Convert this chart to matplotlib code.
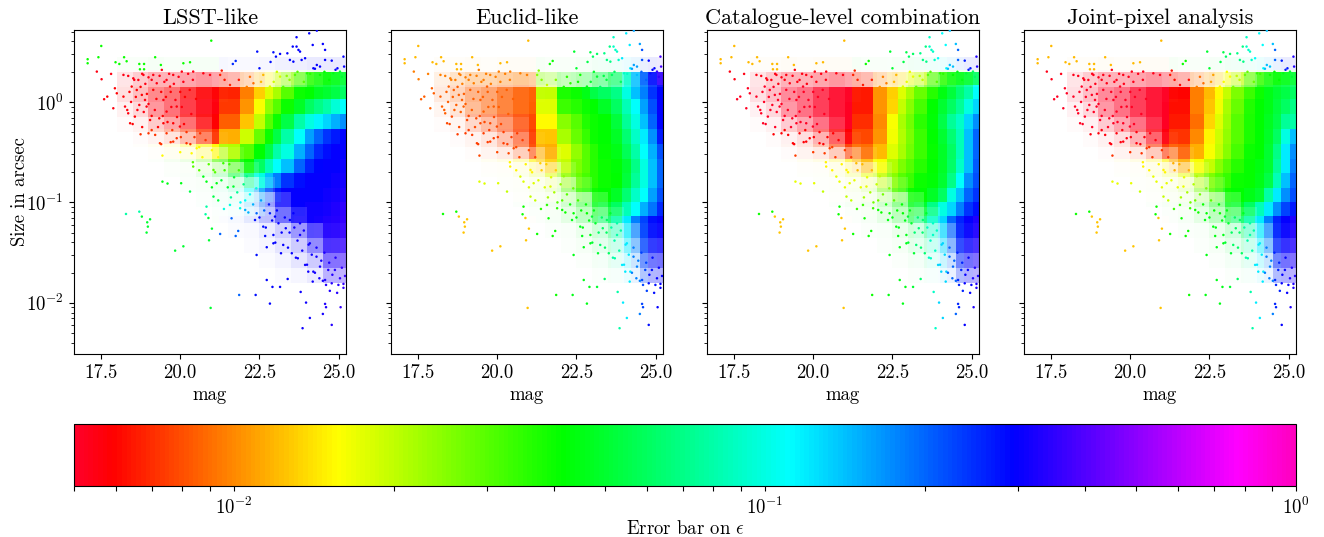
import matplotlib
matplotlib.use('Agg')
import matplotlib.pyplot as plt
from matplotlib.colors import ListedColormap, LogNorm
from matplotlib.cm import ScalarMappable
from matplotlib.ticker import LogLocator, NullFormatter
import numpy as np

plt.rcParams['font.family'] = ['cmr10', 'DejaVu Serif']
plt.rcParams['mathtext.fontset'] = 'cm'
plt.rcParams['axes.formatter.use_mathtext'] = True
plt.rcParams['axes.unicode_minus'] = False

titles = ['LSST-like', 'Euclid-like', 'Catalogue-level combination', 'Joint-pixel analysis']

# tile edges of the error map
mag_edges = [16.65, 21.22, 21.89, 22.33, 22.68, 22.94, 23.19, 23.58, 23.93, 24.22, 24.51, 24.77, 25.03, 25.25]
log_size_edges = [0.72, 0.32, 0.17, 0.03, -0.12, -0.27, -0.42, -0.57, -0.71, -0.86, -1.0, -1.14, -2.51]

err_lsst = [
    [.04, .25, .27, .28, .28, .29, .29, .3, .3, .3, .3, .3, .3],
    [.0055, .0065, .009, .012, .015, .019, .024, .03, .036, .04, .042, .045, .05],
    [.0058, .0068, .0095, .013, .018, .022, .03, .04, .042, .047, .05, .055, .06],
    [.0056, .0073, .0105, .016, .024, .03, .04, .048, .06, .07, .08, .095, .11],
    [.0059, .0085, .0125, .02, .03, .04, .055, .08, .1, .115, .13, .15, .17],
    [.0072, .0115, .019, .028, .04, .055, .08, .11, .16, .2, .24, .27, .29],
    [.0155, .021, .03, .042, .055, .08, .1, .15, .2, .25, .28, .3, .3],
    [.03, .033, .042, .06, .085, .11, .14, .2, .26, .29, .3, .3, .31],
    [.045, .05, .07, .1, .14, .18, .24, .28, .3, .3, .3, .31, .32],
    [.055, .075, .11, .16, .22, .27, .3, .3, .3, .3, .31, .32, .33],
    [.08, .1, .15, .2, .27, .29, .3, .3, .31, .31, .32, .33, .35],
    [.05, .2, .25, .28, .29, .3, .3, .31, .31, .32, .33, .34, .36],
]
err_euclid = [
    [.012, .04, .045, .05, .055, .06, .07, .09, .12, .16, .22, .3, .38],
    [.0095, .025, .035, .04, .045, .05, .055, .06, .09, .14, .2, .28, .36],
    [.0085, .02, .038, .04, .045, .055, .06, .07, .1, .14, .18, .24, .29],
    [.0085, .018, .033, .036, .04, .042, .048, .06, .085, .11, .16, .22, .3],
    [.0078, .0155, .025, .03, .037, .04, .042, .052, .075, .1, .14, .2, .29],
    [.0075, .0125, .022, .028, .034, .04, .042, .048, .065, .09, .12, .17, .27],
    [.0078, .0115, .018, .024, .03, .036, .041, .045, .058, .08, .11, .15, .22],
    [.015, .013, .02, .026, .03, .036, .04, .043, .05, .07, .1, .14, .2],
    [.018, .018, .024, .028, .032, .036, .04, .042, .052, .075, .1, .14, .2],
    [.02, .022, .03, .033, .036, .04, .042, .048, .065, .09, .11, .16, .22],
    [.04, .035, .04, .042, .042, .045, .05, .06, .085, .11, .15, .19, .25],
    [.0125, .04, .042, .045, .045, .05, .06, .08, .12, .18, .23, .28, .3],
]
err_catalogue = [
    [.012, .04, .04, .05, .055, .06, .07, .09, .11, .14, .2, .27, .33],
    [.0055, .0068, .0095, .012, .014, .017, .02, .03, .035, .042, .045, .05, .06],
    [.0052, .0065, .0105, .013, .018, .022, .028, .036, .044, .052, .065, .08, .11],
    [.0052, .0065, .0105, .0135, .02, .025, .032, .042, .05, .06, .075, .1, .13],
    [.0052, .007, .01, .016, .022, .027, .035, .043, .055, .075, .09, .13, .17],
    [.0058, .0078, .0105, .0165, .021, .026, .033, .042, .05, .065, .085, .14, .2],
    [.0075, .009, .012, .018, .022, .027, .033, .041, .048, .06, .085, .14, .2],
    [.015, .012, .016, .021, .026, .03, .036, .042, .048, .062, .09, .14, .21],
    [.017, .017, .02, .025, .03, .033, .04, .043, .05, .07, .11, .17, .22],
    [.02, .022, .027, .03, .034, .04, .042, .048, .06, .1, .14, .2, .24],
    [.04, .033, .04, .042, .042, .045, .05, .07, .1, .13, .18, .24, .28],
    [.0125, .04, .042, .044, .045, .05, .065, .09, .13, .2, .26, .3, .33],
]
err_joint = [
    [.012, .04, .042, .05, .055, .06, .07, .09, .11, .14, .2, .27, .33],
    [.0054, .0062, .009, .011, .013, .016, .02, .028, .034, .04, .042, .045, .05],
    [.0052, .006, .0095, .012, .0155, .02, .026, .033, .04, .045, .05, .055, .06],
    [.0052, .0062, .0095, .0125, .0165, .022, .028, .037, .042, .045, .052, .06, .07],
    [.0052, .0065, .009, .0135, .018, .023, .03, .038, .042, .047, .055, .075, .08],
    [.0056, .0072, .01, .015, .019, .024, .03, .038, .042, .048, .06, .1, .14],
    [.0072, .0085, .0115, .016, .02, .025, .032, .04, .042, .05, .07, .12, .17],
    [.015, .0115, .016, .02, .025, .03, .036, .041, .044, .05, .075, .12, .18],
    [.017, .017, .021, .026, .03, .034, .04, .041, .045, .055, .085, .14, .2],
    [.02, .022, .027, .03, .034, .04, .042, .045, .05, .08, .12, .17, .22],
    [.04, .033, .04, .042, .042, .045, .048, .06, .085, .12, .17, .23, .27],
    [.0125, .04, .042, .044, .045, .05, .06, .08, .12, .18, .26, .3, .33],
]

# share of each cell that the galaxy cloud fills
fill_mag_edges = [16.65, 18, 18.5, 19, 19.5, 20, 20.5, 21, 21.5, 22, 22.5, 23, 23.5, 24, 24.5, 25.25]
fill_log_size_edges = [0.72, 0.45, 0.3, 0.15, 0, -0.15, -0.3, -0.45, -0.6, -0.75, -0.9, -1.05, -1.2, -1.35, -1.5, -1.65, -1.8, -2.51]
cloud_fill = [
    [.02, .02, .03, .02, .03, .03, .03, .02, .02, .03, .05, .06, .08, .08],
    [.1, .2, .3, .3, .35, .4, .35, .3, .25, .3, .45, .65, .85, .92],
    [.12, .25, .45, .55, .75, .9, .98, 1, 1, 1, 1, 1, 1, 1],
    [.05, .15, .4, .55, .75, .9, 1, 1, 1, 1, 1, 1, 1, 1],
    [.01, .05, .2, .35, .55, .8, 1, 1, 1, 1, 1, 1, 1, 1],
    [0, .01, .05, .12, .3, .6, .95, 1, 1, 1, 1, 1, 1, 1],
    [0, 0, .01, .05, .1, .25, .6, .9, 1, 1, 1, 1, 1, 1],
    [0, 0, 0, .01, .02, .08, .2, .5, .85, 1, 1, 1, 1, 1],
    [0, 0, 0, 0, .01, .02, .06, .15, .45, .85, 1, 1, 1, 1],
    [0, 0, 0, 0, 0, .01, .03, .06, .18, .4, .8, 1, 1, 1],
    [0, 0, 0, 0, 0, 0, .01, .03, .1, .25, .55, .85, 1, 1],
    [0, 0, 0, 0, 0, 0, 0, .01, .02, .07, .18, .4, .7, .95],
    [0, 0, 0, 0, 0, 0, 0, 0, .01, .03, .1, .2, .45, .8],
    [0, 0, 0, 0, 0, 0, 0, 0, 0, .01, .04, .1, .2, .55],
    [0, 0, 0, 0, 0, 0, 0, 0, 0, 0, .01, .03, .08, .3],
]

# single galaxies
point_mag = [
    17.08, 17.08, 17.42, 17.51, 17.96, 18.08, 18.23, 18.31, 18.71, 18.73, 18.86, 18.86, 19.21, 19.39, 19.42, 20.10, 20.31, 20.98,
    21.31, 21.66, 21.75, 22.43, 22.5, 22.85, 22.94, 23.02, 23.15, 23.38, 23.55, 23.67, 24.07, 24.31, 23.73, 23.46, 23.57, 23.83,
    23.94, 24.18, 24.5, 24.57, 24.31, 24.41, 24.57, 24.78, 24.96, 25.15, 25.17, 23.67, 23.78, 24.2,
    17.37, 17.52, 17.7, 17.6, 17.82, 17.94, 18.0, 17.89, 18.21, 18.26, 18.36, 18.42, 18.75, 19.0, 19.36, 19.44, 19.44, 19.6, 20.03, 20.31,
    18.29, 18.71, 18.79, 19.05, 18.96, 18.98, 18.94, 19.84, 20.1, 20.83, 20.8, 20.89, 21.0, 20.91, 20.96, 21.26, 21.83, 21.75, 21.62,
    21.38, 21.57, 21.89, 22.05, 22.36, 22.41, 22.73, 22.73, 22.91, 23.15, 23.39, 21.86, 22.38, 22.83, 23.8, 23.97, 24.09, 23.86, 24.57,
    24.6, 24.5, 24.78, 25.06, 24.18, 24.39, 24.57, 24.6, 24.78, 24.99, 25.15, 25.2, 24.04, 24.2, 23.94, 23.71, 23.52, 23.18, 22.94,
    22.68, 23.25, 23.78, 22.94, 23.33, 22.99, 23.1, 23.46, 22.62, 22.41, 22.83, 23.57, 23.78, 24.09, 24.3, 24.41, 24.67, 24.88, 25.04,
    18.36, 18.52, 18.68, 18.84, 19.0, 19.15, 19.26, 18.47, 18.63, 18.79, 18.89, 18.71, 18.94, 18.21, 18.33, 18.57, 19.1, 19.34, 19.47,
    19.57, 19.78, 20.05, 20.41, 20.73, 20.94, 19.47, 19.68, 19.89, 19.57, 19.99, 19.78, 19.21, 19.57, 19.89, 20.2, 20.52, 20.63, 20.36,
    19.78, 21.26, 21.57, 21.99, 22.31, 22.62, 22.83, 23.15, 23.36, 23.62, 24.0, 24.41, 24.83, 25.04, 20.41, 20.73, 21.05, 21.15, 21.36,
    21.05, 21.68, 20.83,
    18.4, 18.45, 18.55, 18.6, 18.65, 18.75, 18.8, 18.85, 18.9, 18.95, 19.0, 19.05, 19.1, 19.15, 19.2, 19.25, 19.3, 19.35, 19.4, 19.45, 19.5,
    19.55, 19.6, 19.65, 19.7, 19.72, 19.75, 19.8, 19.85, 19.9, 19.95, 20.0, 20.02, 20.05, 20.1, 20.12, 20.15, 20.2, 20.25, 20.3, 20.32, 20.35, 20.4, 20.45, 20.5,
    20.6, 20.7, 20.8, 20.9, 21.0, 21.1, 21.2, 21.3, 21.4, 21.5, 21.55, 21.6, 21.7, 21.8, 21.85, 21.9, 22.0, 22.05, 22.1, 22.15, 22.2, 22.3, 22.4, 22.5, 22.55,
    22.65, 22.7, 22.8, 22.9, 23.0, 23.05, 23.2, 23.3, 23.4, 23.45, 23.6, 23.65, 23.7, 23.85, 23.9, 24.0, 24.05, 24.15, 24.25, 24.3, 24.45, 24.5, 24.55, 24.7, 24.72,
    24.8, 24.9, 24.95, 25.1, 25.15,
    21.4, 21.7, 21.85, 22.1, 22.2, 22.45, 22.55, 22.7, 22.95, 23.05, 23.25, 23.45, 23.7, 23.9, 24.1, 24.25, 24.55, 24.7, 24.9, 25.1,
    18.5, 18.8, 19.1, 19.4, 19.7, 20.0, 20.4, 20.6, 21.0, 21.2,
]
point_log_size = [
    .425, .385, .445, .557, .395, .378, .445, .405, .378, .325, .378, .325, .445, .368, .319, .385, .395, .61,
    .312, .378, .408, .501, .335, .398, .494, .451, .478, .484, .551, .644, .683, .71, .518, .418, .401, .418,
    .435, .567, .577, .518, .368, .352, .418, .411, .335, .451, .352, .551, .501, .335,
    .302, .226, .053, .027, .279, .136, .086, -.063, .269, -.046, -.113, -.212, -.322, -.312, -.411, -.534, -.793, -.812, -.809, -.892,
    -1.115, -1.092, -1.141, -1.168, -1.198, -1.241, -1.3, -1.48, -1.437, -1.042, -1.118, -1.155, -1.261, -1.377, -2.05, -1.314, -1.284, -1.334, -1.158,
    -1.065, -1.025, -1.058, -1.075, -1.175, -1.523, -1.446, -1.772, -1.841, -1.841, -1.762, -1.921, -1.921, -2.007, -1.891, -1.997, -2.15, -2.252, -2.01,
    -2.043, -2.11, -2.219, -2.043, -1.788, -1.755, -1.772, -1.821, -1.805, -1.821, -1.811, -1.732, -1.689, -1.689, -1.622, -1.556, -1.506, -1.506, -1.407,
    -1.334, -1.423, -1.324, -1.324, -1.257, -1.141, -1.208, -1.175, -1.241, -1.108, -1.108, -1.108, -1.208, -1.407, -1.54, -1.639, -1.672, -1.672, -1.755,
    .259, .235, .219, .269, .245, .269, .186, .153, .119, .07, .02, -.03, -.046, .053, -.08, -.146, -.139, -.163, -.212,
    .219, .269, .302, .302, .285, .269, .02, .153, -.046, -.096, -.245, -.212, -.328, -.312, -.361, -.411, -.461, -.312, -.511,
    -.395, .269, .169, .119, .186, .269, .153, .252, .259, .269, .285, .269, .285, .302, -.643, -.743, -.677, -.809, -.61,
    -.942, -.842, -.793,
    .1, 0, .22, .05, -.08, .15, .28, -.1, .18, .08, -.02, -.18, .22, .12, -.08, .03, -.25, .26, .1, -.14, .2,
    .05, -.2, .28, .1, -.05, -.28, .18, .02, -.15, .25, .1, -.35, -.05, .2, -.22, .05, -.3, .28, .12, -.42, -.12, .22, -.35, .03,
    -.45, -.55, -.38, -.62, -.48, -.7, -.55, -.78, -.68, -.85, -.62, -.95, -.75, -.9, -.68, -1.0, -.82, -.98, -.74, -1.1, -.92, -1.02, -.86, -1.15, -.98,
    -1.08, -1.25, -1.02, -1.18, -1.4, -1.08, -1.3, -1.15, -1.45, -1.3, -1.25, -1.55, -1.38, -1.48, -1.28, -1.62, -1.42, -1.52, -1.7, -1.45, -1.58, -1.78, -1.5, -1.6, -1.88,
    -1.72, -1.55, -1.9, -1.65, -1.85,
    .22, .12, .22, .15, .25, .1, .2, .12, .2, .3, .15, .22, .3, .2, .28, .33, .3, .22, .32, .25,
    -.22, -.25, -.28, -.42, -.4, -.5, -.6, -.68, -.85, -.98,
]

all_err = [err_lsst, err_euclid, err_catalogue, err_joint]
panel_left = [74, 391, 707, 1024]

W, H = 1324, 537
fig = plt.figure(figsize=(W / 100, H / 100), dpi=100)
norm = LogNorm(vmin=0.005, vmax=1)
cmap = plt.get_cmap('gist_rainbow')

x_edges = np.array(mag_edges)
y_edges = 10 ** np.array(log_size_edges)
fill_x = np.array(fill_mag_edges)
fill_y = 10 ** np.array(fill_log_size_edges)
fill = np.pad(np.array(cloud_fill, dtype=float), ((1, 1), (1, 0)))
px = np.array(point_mag)
py = 10 ** np.array(point_log_size)

for i, left in enumerate(panel_left):
    ax = fig.add_axes([left / W, (H - 354) / H, 272 / W, 324 / H])
    err = np.array(all_err[i])
    ax.pcolormesh(x_edges, y_edges, err, cmap=cmap, norm=norm, linewidth=0, antialiased=False, zorder=1)
    # blank out what the galaxies do not fill
    ax.pcolormesh(fill_x, fill_y, np.zeros_like(fill), cmap=ListedColormap(['white']),
                  alpha=1 - fill, linewidth=0, antialiased=False, zorder=2)
    # colour of single points comes from the tile they sit in
    col = np.clip(np.searchsorted(x_edges, px) - 1, 0, err.shape[1] - 1)
    row = np.clip(np.searchsorted(-np.array(log_size_edges), -np.array(point_log_size)) - 1, 0, err.shape[0] - 1)
    ax.scatter(px, py, c=err[row, col], cmap=cmap, norm=norm, s=3.2, linewidths=0, zorder=3)

    ax.set_yscale('log')
    ax.set_xlim(16.65, 25.23)
    ax.set_ylim(0.0031, 5.2)
    ax.set_xticks([17.5, 20.0, 22.5, 25.0])
    ax.set_xticklabels(['17.5', '20.0', '22.5', '25.0'])
    ax.tick_params(axis='both', labelsize=13.5, length=3.5, width=0.8, pad=4)
    ax.tick_params(axis='y', which='minor', length=2, width=0.6)
    ax.set_xlabel('mag', fontsize=13.5, labelpad=3)
    ax.set_title(titles[i], fontsize=16, pad=4)
    if i == 0:
        ax.set_ylabel('Size in arcsec', fontsize=13.5, labelpad=-2)
    else:
        ax.tick_params(axis='y', which='both', labelleft=False)

cax = fig.add_axes([74 / W, (H - 486) / H, 1222 / W, 62 / H])
cb = fig.colorbar(ScalarMappable(norm=norm, cmap=cmap), cax=cax, orientation='horizontal')
cb.ax.xaxis.set_major_locator(LogLocator(base=10))
cb.ax.xaxis.set_minor_locator(LogLocator(base=10, subs=np.arange(2, 10)))
cb.ax.xaxis.set_minor_formatter(NullFormatter())
cb.ax.tick_params(axis='x', which='both', length=3.5, width=0.8, labelsize=13.5, pad=4)
cb.set_label(r'Error bar on $\epsilon$', fontsize=13.5, labelpad=2)

fig.savefig('out.png', dpi=100)
